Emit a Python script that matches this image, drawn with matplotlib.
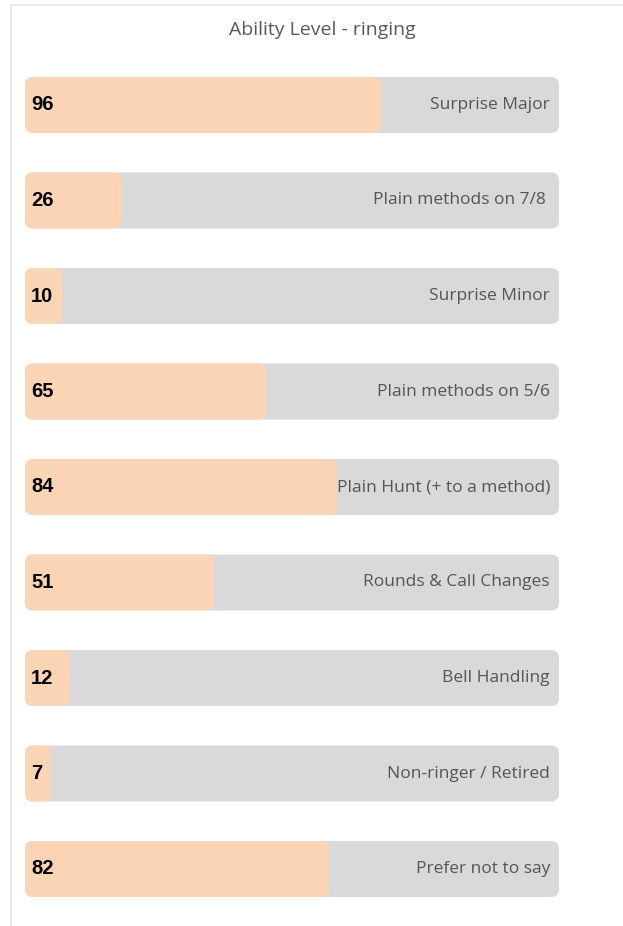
import numpy as np
import matplotlib.pyplot as plt
from matplotlib.patches import FancyBboxPatch
from matplotlib.lines import Line2D

title = "Ability Level - ringing"
categories = ["Surprise Major", "Plain methods on 7/8 ", "Surprise Minor",
              "Plain methods on 5/6", "Plain Hunt (+ to a method)",
              "Rounds & Call Changes", "Bell Handling", "Non-ringer / Retired",
              "Prefer not to say"]
counts = [96, 26, 10, 65, 84, 51, 12, 7, 82]
axis_max = 144

W, H = 623, 926
fig = plt.figure(figsize=(W / 100, H / 100), dpi=100)
ax = fig.add_axes([25 / W, 1 - 916.75 / H, 534 / W, 859.5 / H])

y = np.arange(len(categories))
bar_h = 0.586
bg = ax.barh(y, [axis_max] * len(y), height=bar_h, color="#d9d9d9")
fg = ax.barh(y, counts, height=bar_h, color="#fbd5b5")
ax.set_xlim(0, axis_max)
ax.set_ylim(len(y) - 0.5, -0.5)
ax.axis("off")

# swap the square bars for rounded ones with the same geometry
px_x = axis_max / 534
px_y = 9.0 / 859.5
aspect = px_y / px_x
for bars in (bg, fg):
    for p in bars.patches:
        x0, y0 = p.get_x(), p.get_y()
        w, h = p.get_width(), p.get_height()
        rb = FancyBboxPatch((x0, y0), w, h,
                            boxstyle="round,pad=0,rounding_size=%f" % (8 * px_x),
                            mutation_aspect=aspect, linewidth=0,
                            facecolor=p.get_facecolor())
        p.set_visible(False)
        ax.add_patch(rb)

for i, (lab, v) in enumerate(zip(categories, counts)):
    ax.text(6 * px_x, i, str(v), ha="left", va="center", fontsize=14.5,
            fontweight="bold", family="Liberation Sans", color="black")
    ax.text(axis_max - 9 * px_x, i, lab, ha="right", va="center", fontsize=12.5,
            family="Open Sans", color="#555555")

fig.text(322 / W, 1 - 30 / H, title, ha="center", va="center", fontsize=14,
         family="Open Sans", color="#595959")

# light frame on the left and top
fig.add_artist(Line2D([10.5 / W, 10.5 / W], [0, 1 - 5 / H], color="#e6e6e6", lw=1.2))
fig.add_artist(Line2D([10.5 / W, 1], [1 - 5 / H, 1 - 5 / H], color="#e6e6e6", lw=1.2))

fig.savefig("out.png", dpi=100)
